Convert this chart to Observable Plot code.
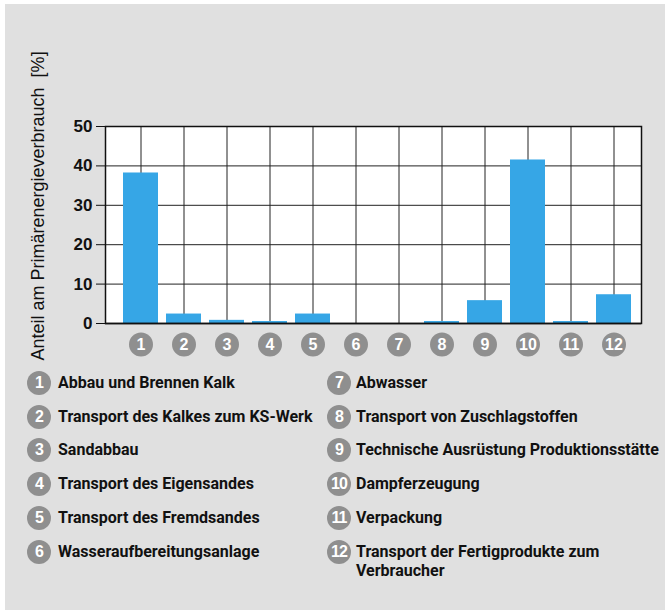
<!DOCTYPE html>
<html>
<head>
<meta charset="utf-8">
<script src="https://cdn.jsdelivr.net/npm/d3@7"></script>
<script src="https://cdn.jsdelivr.net/npm/@observablehq/plot@0.6"></script>
<style>
  html, body { margin: 0; padding: 0; background: #ffffff; }
  #page { position: absolute; left: 5px; top: 4px; width: 660px; height: 606px; background: #e0e0e0; }
  #chart { position: absolute; left: 0; top: 0; }
  .badge { position: absolute; width: 24px; height: 24px; border-radius: 12px; background: #8f8f8f; color: #fff;
           font: bold 16px "Liberation Sans", Arial, sans-serif; display: flex; align-items: center;
           justify-content: center; letter-spacing: -1px; }
  .ltxt { position: absolute; font: bold 16px Roboto, "Liberation Sans", sans-serif;
          line-height: 19px; color: #111; white-space: pre; }
</style>
</head>
<body>
<div id="page"></div>
<div id="chart"></div>
<div id="legend"></div>
<script>
const categories = ["1","2","3","4","5","6","7","8","9","10","11","12"];
const values = [38.2, 2.4, 0.8, 0.5, 2.4, 0, 0, 0.5, 5.8, 41.5, 0.5, 7.3];
const labels = [
  "Abbau und Brennen Kalk",
  "Transport des Kalkes zum KS-Werk",
  "Sandabbau",
  "Transport des Eigensandes",
  "Transport des Fremdsandes",
  "Wasseraufbereitungsanlage",
  "Abwasser",
  "Transport von Zuschlagstoffen",
  "Technische Ausrüstung Produktionsstätte",
  "Dampferzeugung",
  "Verpackung",
  "Transport der Fertigprodukte zum\nVerbraucher"
];
const yTicks = [0, 10, 20, 30, 40, 50];
const yTitle = "Anteil am Primärenergieverbrauch  [%]";

const data = categories.map((c, i) => ({cat: c, value: values[i]}));

const plot = Plot.plot({
  width: 665,
  height: 365,
  marginLeft: 105,
  marginRight: 24,
  marginTop: 126,
  marginBottom: 42,
  style: {background: "transparent", fontFamily: "'Liberation Sans', Arial, sans-serif", fontSize: "16px", fontWeight: "bold", color: "#111"},
  x: {type: "band", domain: categories, range: [118, 635], paddingInner: 0.19, paddingOuter: 0.095, axis: null},
  y: {domain: [0, 50], ticks: yTicks, label: null},
  marks: [
    Plot.frame({fill: "white"}),
    Plot.gridY(yTicks, {stroke: "#222", strokeOpacity: 1, strokeWidth: 1}),
    Plot.gridX(categories, {stroke: "#222", strokeOpacity: 1, strokeWidth: 1}),
    Plot.barY(data, {x: "cat", y: "value", fill: "#36a6e6"}),
    Plot.frame({stroke: "#111", strokeWidth: 1.5}),
    Plot.ruleY([0], {stroke: "#111", strokeWidth: 1.5}),
    Plot.axisY(yTicks, {tickSize: 9, tickPadding: 4, stroke: "#111", fontSize: 17, fontWeight: "bold", label: null}),
    Plot.dot(data, {x: "cat", y: 0, dy: 21, r: 12, fill: "#8f8f8f"}),
    Plot.text(data, {x: "cat", y: 0, dy: 21, text: "cat", fill: "white", fontSize: 16, fontWeight: "bold", letterSpacing: "-1px"}),
    Plot.text([yTitle], {frameAnchor: "bottom-left", dx: -67, dy: 37, rotate: -90, textAnchor: "start",
      lineAnchor: "middle", fontSize: 18, fontWeight: "normal", fill: "#111"})
  ]
});
document.getElementById("chart").appendChild(plot);

const legend = document.getElementById("legend");
const rowH = 33.7;
labels.forEach((lab, i) => {
  const col = Math.floor(i / 6), row = i % 6;
  const cx = col === 0 ? 39 : 339;
  const cy = 383 + row * rowH;
  const b = document.createElement("div");
  b.className = "badge";
  b.style.left = (cx - 12) + "px";
  b.style.top = (cy - 12) + "px";
  b.textContent = categories[i];
  legend.appendChild(b);
  const t = document.createElement("div");
  t.className = "ltxt";
  t.style.left = (col === 0 ? 58 : 356) + "px";
  t.style.top = (cy - 10) + "px";
  t.textContent = lab;
  legend.appendChild(t);
});
</script>
</body>
</html>
